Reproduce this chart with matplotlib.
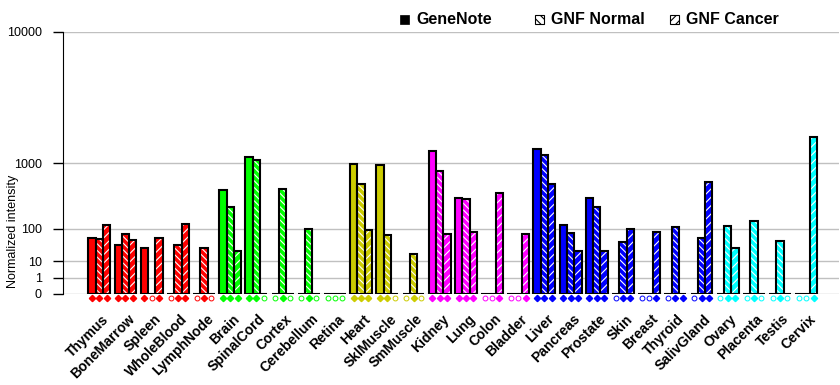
import numpy as np
import matplotlib
matplotlib.use('Agg')
import matplotlib.pyplot as plt
import matplotlib.transforms as mtransforms
from matplotlib.patches import Rectangle

plt.rcParams['font.family'] = ['Liberation Sans', 'DejaVu Sans']
plt.rcParams['hatch.linewidth'] = 0.8

# tissues and their colour groups
tissues = ['Thymus', 'BoneMarrow', 'Spleen', 'WholeBlood', 'LymphNode',
           'Brain', 'SpinalCord', 'Cortex', 'Cerebellum', 'Retina',
           'Heart', 'SklMuscle', 'SmMuscle',
           'Kidney', 'Lung', 'Colon', 'Bladder',
           'Liver', 'Pancreas', 'Prostate', 'Skin', 'Breast', 'Thyroid', 'SalivGland',
           'Ovary', 'Placenta', 'Testis', 'Cervix']
group_colors = (['#ff0000'] * 5 + ['#00ff00'] * 5 + ['#cccc00'] * 3 +
                ['#ff00ff'] * 4 + ['#0000ff'] * 7 + ['#00ffff'] * 4)

# normalized intensity (0 = not measured)
genenote   = [61, 39, 30, 0, 0, 466, 1160, 0, 0, 0, 986, 950, 0,
              1335, 358, 0, 0, 1399, 120, 358, 0, 0, 0, 0, 0, 0, 0, 0]
gnf_normal = [55, 76, 0, 39, 30, 256, 1078, 481, 96, 0, 561, 72, 20,
              806, 346, 0, 0, 1217, 80, 259, 45, 0, 109, 61, 115, 145, 51, 0]
gnf_cancer = [120, 52, 61, 126, 0, 24, 0, 0, 0, 0, 91, 0, 0,
              75, 85, 415, 76, 568, 24, 24, 96, 85, 0, 603, 32, 0, 0, 1820]
# presence flags shown as markers under each group (GeneNote, Normal, Cancer)
present = ['111', '111', '101', '011', '010', '111', '110', '010', '010', '000',
           '111', '110', '010', '111', '111', '001', '001', '111', '111', '111',
           '011', '001', '011', '011', '011', '010', '010', '001']

yticks = [0, 1, 10, 100, 1000, 10000]
legend_labels = ['GeneNote', 'GNF Normal', 'GNF Cancer']

EXP = np.log10(2)
def fwd(v):
    v = np.asarray(v, dtype=float)
    return np.sign(v) * np.abs(v) ** EXP
def inv(v):
    v = np.asarray(v, dtype=float)
    return np.sign(v) * np.abs(v) ** (1 / EXP)

W, H = 840, 385
fig = plt.figure(figsize=(W / 100, H / 100), dpi=100)
ax = fig.add_axes([63 / W, 91 / H, 776 / W, 262 / H])
ax.set_yscale('function', functions=(fwd, inv))

x = np.arange(len(tissues))
w = 0.279
series = [genenote, gnf_normal, gnf_cancer]
hatches = [None, '\\\\\\\\\\', '////']
for k, (vals, h) in enumerate(zip(series, hatches)):
    xs = x + (k - 1) * w
    if h is None:
        ax.bar(xs, vals, w, color=group_colors, edgecolor='black', lw=1.5, zorder=3)
    else:
        ax.bar(xs, vals, w, color=group_colors, edgecolor='white', hatch=h, lw=0, zorder=2)
        ax.bar(xs, vals, w, fill=False, edgecolor='black', lw=1.5, zorder=3)

trans = mtransforms.blended_transform_factory(ax.transData, ax.transAxes)
for i in range(len(tissues)):
    c = group_colors[i]
    for k in range(3):
        xm = x[i] + (k - 1) * w
        if present[i][k] == '1':
            ax.plot(xm, -3.5 / 262, marker='D', ms=3.2, color=c, mec=c,
                    transform=trans, clip_on=False)
        else:
            ax.plot(xm, -3.5 / 262, marker='o', ms=3.5, mfc='white', mec=c, mew=0.7,
                    transform=trans, clip_on=False)
    ax.text(x[i] + 0.08, -18 / 262, tissues[i], transform=trans, rotation=45,
            ha='right', va='top', rotation_mode='anchor', fontsize=10, fontweight='bold')

ax.set_ylim(0, 10000)
ax.set_xlim(-1.387, 28.25)
ax.set_xticks([])
ax.set_yticks(yticks)
ax.set_yticklabels([str(t) for t in yticks])
ax.tick_params(axis='y', length=7.2, width=1, pad=8, labelsize=9)
ax.yaxis.grid(True, color='#c0c0c0', lw=1)
ax.set_axisbelow(True)
for s in ['top', 'right', 'bottom']:
    ax.spines[s].set_visible(False)
ax.spines['left'].set_color('black')

fig.text(13 / W, 1 - 231 / H, 'Normalized intensity', rotation=90,
         ha='center', va='center', fontsize=9)

# legend
def px_rect(x0, y0, w0, h0, **kw):
    fig.add_artist(Rectangle((x0 / W, 1 - (y0 + h0) / H), w0 / W, h0 / H,
                             transform=fig.transFigure, **kw))

box_x = [400, 535, 670]
leg_hatch = [None, '\\\\\\\\', '////']
for bx, lab, hh in zip(box_x, legend_labels, leg_hatch):
    if hh is None:
        px_rect(bx, 15, 9, 9, facecolor='black', edgecolor='black', lw=0.5)
    else:
        px_rect(bx, 15, 9, 9, facecolor='white', edgecolor='black', lw=0.8, hatch=hh)
    fig.text((bx + 16) / W, 1 - 20 / H, lab, ha='left', va='center',
             fontsize=11.5, fontweight='bold')

fig.savefig('out.png', dpi=100)
